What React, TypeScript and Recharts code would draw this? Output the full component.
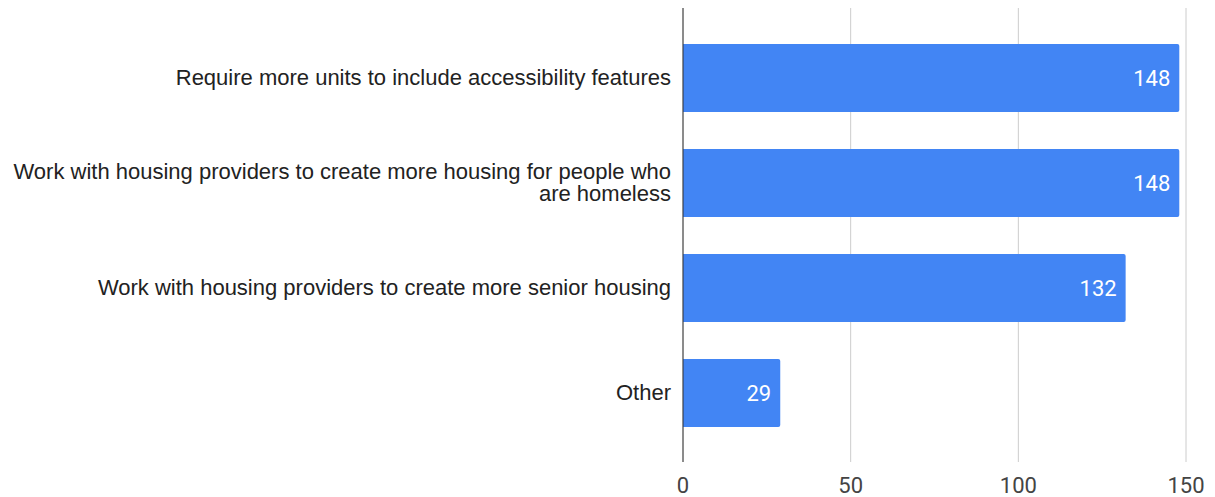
import { BarChart, Bar, XAxis, YAxis, CartesianGrid, LabelList } from 'recharts'

const categories = [
  'Require more units to include accessibility features',
  'Work with housing providers to create more housing for people who are homeless',
  'Work with housing providers to create more senior housing',
  'Other',
]
const counts = [148, 148, 132, 29]
const xTicks = [0, 50, 100, 150]

const data = categories.map((name, i) => ({ name, value: counts[i] }))

const LABEL_FONT = '22px "Liberation Sans", Arial, sans-serif'
const LABEL_WIDTH = 668
const LINE_HEIGHT = 22

let ctx: CanvasRenderingContext2D | null = null

// greedy word wrap, measured with canvas
function wrapLabel(text: string): string[] {
  if (!ctx) ctx = document.createElement('canvas').getContext('2d')
  if (!ctx) return [text]
  ctx.font = LABEL_FONT
  const words = text.split(' ')
  const lines: string[] = []
  let cur = ''
  for (const w of words) {
    const next = cur ? `${cur} ${w}` : w
    if (cur && ctx.measureText(next).width > LABEL_WIDTH) {
      lines.push(cur)
      cur = w
    } else {
      cur = next
    }
  }
  if (cur) lines.push(cur)
  return lines
}

function CategoryTick(props: any) {
  const { x, y, payload } = props
  const lines = wrapLabel(String(payload.value))
  const startDy = -((lines.length - 1) / 2) * LINE_HEIGHT
  return (
    <text
      x={x}
      y={y}
      textAnchor="end"
      fill="#222"
      style={{ font: LABEL_FONT }}
    >
      {lines.map((line, i) => (
        <tspan key={i} x={x} dy={i === 0 ? startDy + 7.8 : LINE_HEIGHT}>
          {line}
        </tspan>
      ))}
    </text>
  )
}

export default function App() {
  return (
    <div style={{ position: 'absolute', left: 0, top: 0, background: '#fff' }}>
      <BarChart
        width={1215}
        height={497}
        data={data}
        layout="vertical"
        margin={{ top: 8, right: 29, left: 0, bottom: 0 }}
        barCategoryGap={37}
      >
        <CartesianGrid horizontal={false} stroke="#ccc" />
        <XAxis
          type="number"
          domain={[0, 150]}
          ticks={xTicks}
          axisLine={false}
          tickLine={false}
          height={35}
          tickMargin={9}
          tick={{ fontSize: 22, fill: '#444', fontFamily: 'Roboto, Arial, sans-serif' }}
        />
        <YAxis
          type="category"
          dataKey="name"
          width={683}
          padding={{ top: 17, bottom: 17 }}
          axisLine={{ stroke: '#333' }}
          tickLine={false}
          tickMargin={6}
          interval={0}
          tick={<CategoryTick />}
        />
        <Bar dataKey="value" fill="#4285F4" barSize={68} radius={[0, 2, 2, 0]} isAnimationActive={false}>
          <LabelList
            dataKey="value"
            position="insideRight"
            offset={9}
            fill="#fff"
            style={{ fontFamily: 'Roboto, Arial, sans-serif', fontSize: 22 }}
          />
        </Bar>
      </BarChart>
    </div>
  )
}
